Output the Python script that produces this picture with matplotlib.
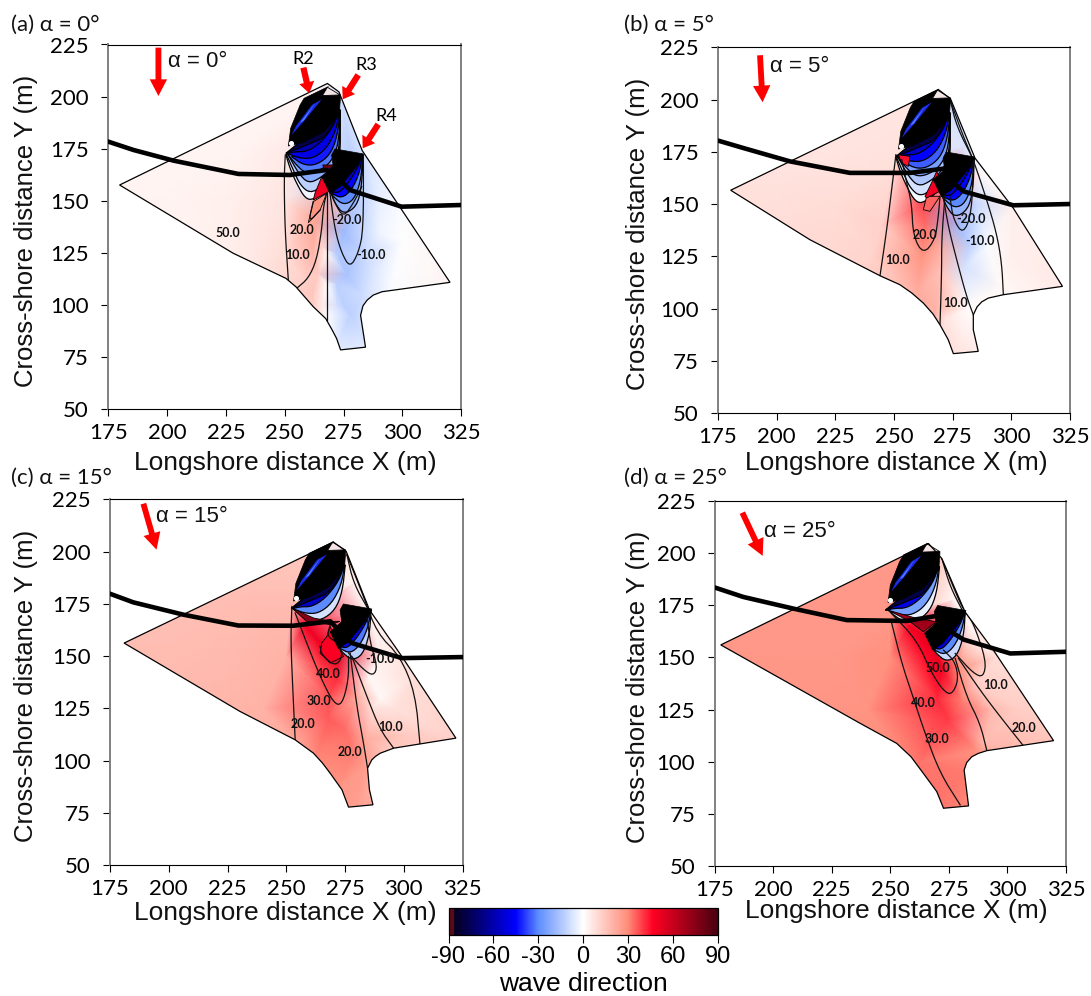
import matplotlib
matplotlib.use("Agg")
import matplotlib.pyplot as plt
import numpy as np
from matplotlib.colors import LinearSegmentedColormap, Normalize
from matplotlib.cm import ScalarMappable
from matplotlib.patches import Polygon
from matplotlib.tri import Triangulation

W, H = 1091, 996
TEXT_FONT = ["Liberation Sans", "DejaVu Sans"]
TICK_FONT = ["Lato", "DejaVu Sans"]

# values, everything in metres / degrees
X_TICKS = [175, 200, 225, 250, 275, 300, 325]
Y_TICKS = [50, 75, 100, 125, 150, 175, 200, 225]
CBAR_TICKS = [-90, -60, -30, 0, 30, 60, 90]

OUTLINE_A = [(179.8, 157.6), (268.1, 206.3), (273, 202.3), (282.9, 174.1), (299.1, 146.7), (320.2, 110.9),
             (291.3, 106.4), (287.6, 104.8), (285, 102.4), (283.2, 99.6), (282.2, 95.1), (284.3, 79.8), (273.7, 78.5),
             (272, 84), (270.2, 87.9), (267.4, 93.5), (262.1, 99.2), (254.7, 108.8), (250.5, 112.8), (228, 124.9)]
OUTLINE_B = [(180.4, 156.6), (268.9, 204.8), (274.1, 200.3), (284.5, 172), (300.8, 148.1), (321.8, 110.6),
             (296.6, 106.6), (290.2, 105), (287.4, 103.2), (285.4, 100.8), (283.8, 97), (283.8, 89.8), (285.9, 79.5),
             (275.3, 78.4), (273.1, 85.1), (269.6, 92.2), (266.6, 97.4), (262.5, 102.6), (257.6, 107.4), (252.5, 111.4), (244, 115.7), (214.2, 132.9)]
OUTLINE_C = [(181, 156.2), (270.1, 204.5), (275.5, 200.1), (285.4, 172.1), (299.2, 149.8), (322.2, 110.7),
             (295.7, 105.9), (290, 103.5), (288, 102), (286.4, 100.3), (284.6, 96.3), (285.4, 86), (286.9, 78.8),
             (276.5, 77.7), (273.7, 86), (268.7, 93.9), (265.4, 98.8), (261.6, 103.5), (253.8, 109.9), (230.3, 123.5)]
OUTLINE_D = [(177.6, 156), (266.3, 204.6), (272, 197.4), (281.9, 171.8), (294, 153.5), (319.7, 110.1),
             (291.2, 105.3), (287.6, 104), (284.8, 102.4), (282.6, 99.6), (281.5, 96), (283.4, 78.8), (272.7, 77.7), (269.8, 85.7),
             (264.1, 94.4), (258.8, 102.4), (252.7, 108.8), (237.1, 118.4)]

# wave direction samples (x, y, degrees)
FIELD_A = [(170, 157, 3), (270, 215, 3), (330, 108, 3), (287, 70, -5), (265, 70, 0), (225, 112, 4), (296, 100, -1),
           (178, 157, 3), (200, 155, 3), (225, 150, 4), (240, 130, 6), (250, 125, 9), (250, 150, 7), (250, 175, 5),
           (230, 175, 3), (258, 195, 3), (258, 112, 12), (262, 125, 20), (263, 140, 24), (262, 105, 15), (266, 100, 5),
           (264, 115, 14), (266, 128, 11), (268, 110, 0), (272, 100, -8), (272, 110, -12), (272, 125, -14),
           (268, 125, 2), (268, 95, 0), (272, 80, -5), (285, 80, -5), (278, 95, -12), (276, 115, -16), (275, 135, -18),
           (275, 100, -12), (275, 88, -9), (278, 82, -7), (287, 115, -7), (282, 150, -12), (290, 150, -4),
           (283, 125, -11), (283, 105, -9), (290, 135, -3), (300, 130, 0), (295, 108, -1), (320, 110, 3), (300, 147, -1),
           (286, 165, -7), (278, 170, -13), (275, 195, -9)]
FIELD_B = [(170, 157, 8), (270, 215, 8), (330, 108, 5), (287, 70, 5), (265, 70, 15), (225, 112, 11), (296, 100, 2),
           (178, 157, 8), (200, 157, 8), (225, 150, 9), (240, 125, 11), (245, 140, 12), (250, 170, 8), (258, 195, 7),
           (230, 178, 7), (252, 113, 17), (260, 108, 22), (262, 125, 28), (263, 140, 34), (262, 150, 38), (268, 100, 20),
           (268, 130, 24), (270, 118, 16), (272, 95, 7), (278, 82, 6), (285, 80, 5), (281, 100, 1), (280, 120, -8),
           (282, 130, -12), (278, 140, -18), (285, 150, -10), (290, 130, -1), (295, 110, 2), (300, 125, 4), (320, 110, 5),
           (300, 148, 4), (288, 165, 1), (280, 178, -7), (274, 198, -9)]
FIELD_C = [(170, 157, 17), (270, 215, 15), (330, 108, 12), (287, 70, 24), (265, 70, 28), (225, 112, 20), (296, 100, 15),
           (178, 157, 17), (200, 155, 17), (225, 150, 18), (240, 125, 20), (250, 150, 20), (252, 172, 18), (230, 178, 17),
           (258, 195, 15), (255, 108, 23), (262, 100, 30), (268, 120, 36), (268, 130, 37), (265, 145, 40), (272, 140, 42),
           (258, 165, 50), (263, 158, 50), (272, 150, 54), (275, 115, 34), (278, 105, 32), (272, 85, 27), (280, 78, 25), (283, 97, 26),
           (284, 110, 22), (287, 125, 8), (285, 140, 2), (290, 130, 2), (296, 125, 8), (300, 112, 14), (322, 110, 12),
           (305, 140, 9), (290, 150, 4), (285, 172, 3), (279, 185, 2), (274, 200, 8), (292, 105, 15), (280, 130, 22)]
FIELD_D = [(170, 156, 27), (266, 215, 25), (330, 108, 15), (287, 70, 31), (265, 70, 34), (225, 112, 28), (296, 100, 22),
           (178, 156, 27), (200, 155, 27), (225, 150, 27), (240, 125, 28), (250, 150, 29), (250, 170, 27), (225, 178, 27),
           (258, 195, 27), (252, 108, 30), (262, 100, 33), (268, 120, 38), (270, 130, 42), (272, 145, 50), (265, 150, 46),
           (258, 165, 48), (268, 158, 54), (275, 120, 40), (272, 85, 33), (280, 78, 31), (283, 95, 32), (287, 105, 28),
           (290, 110, 18), (293, 125, 18), (287, 138, 12), (295, 105, 20), (320, 110, 15), (305, 125, 13), (295, 150, 9),
           (290, 155, 5), (284, 165, 2), (277, 178, 2), (272, 197, 12), (280, 130, 32), (279, 145, 30)]

# shoreline
SHORE_A = [(175, 178.4), (185.7, 174.4), (202.7, 169.3), (230.3, 162.9), (252.2, 162.4), (267.8, 164.8), (273.5, 160),
           (277.7, 155.2), (299.6, 147.2), (325, 148)]
SHORE_B = [(175.2, 180.3), (185.8, 176.8), (205.7, 170.4), (231.2, 164.9), (256.8, 164.9), (273.8, 167.3), (275.3, 160.1),
           (279.5, 156.1), (300.8, 149.4), (325, 150)]
SHORE_C = [(175, 179.8), (184.9, 175.7), (206.2, 169.8), (229.6, 164.6), (253, 164.5), (268.7, 166.6), (275, 159.4),
           (277.9, 156.2), (299.2, 149), (325, 149.5)]
SHORE_D = [(175.1, 183.5), (187.2, 179), (208.6, 173.4), (231.4, 167.9), (257, 167.5), (271.3, 170.2), (277, 161.5),
           (281.2, 158.6), (301.2, 151.9), (325, 152.7)]

# reef blocks, drawn for panel a and moved sideways in the others
UPPER_BLOCK = [(258.2, 199.2), (268.5, 204.8), (266, 200.5), (273.7, 200.8), (273.2, 192), (266.5, 183), (257.9, 178),
               (251.5, 176.3), (252.5, 184.8), (256.5, 196)]
UPPER_NOTCH = [(268.1, 204.5), (273.5, 200.8), (266, 200.5)]
UPPER_STRIPE = [(265.7, 198.7), (261.5, 196), (254.8, 186), (252.9, 181.6), (258.6, 188.8)]
UPPER_STRIPE_2 = [(263, 197), (256.5, 187.5), (258, 188.5)]
LOWER_BLOCK = [(269.9, 172), (271.3, 174.9), (283.4, 172.5), (280.5, 166.4), (273.5, 156.8), (269.2, 153.6),
               (265.7, 161.6), (270.6, 166.4)]
UPPER_FAN = [
    [(273.2, 193.6), (267.8, 180.8), (259.3, 176.8), (250.5, 172.8)],
    [(273.2, 193.9), (270.6, 185.6), (265, 177.6), (259.3, 173.6), (254.3, 173.6), (250.5, 172.5)],
    [(273.3, 193.6), (271.8, 184), (267.8, 175.2), (262.1, 170.4), (256.5, 170.4), (251.5, 172.5)],
    [(273.5, 193.6), (272.3, 180.8), (269.2, 172), (263.5, 167.2), (257.9, 167.2), (252.9, 171.2)],
    [(273.5, 193.6), (272.9, 177.6), (269.9, 168.8), (264.2, 164), (258.6, 163.2), (254.3, 168), (251.5, 172)],
    [(273.5, 193.6), (273.2, 174.4), (270.6, 166.4), (265, 160.8), (260, 158.4), (255.8, 163.2), (251.5, 172)],
    [(273.5, 193.6), (273.5, 171.2), (270.6, 163.2), (265.7, 156.8), (260.7, 153.6), (256.5, 157.6), (253.6, 164.8), (250.8, 172)],
    [(273.5, 193.6), (273.5, 168), (269.2, 156.8), (262.1, 150.4), (258.6, 151.2), (255, 158.4), (252.2, 165.6), (250.5, 172)],
]
LOWER_FAN = [
    [(283.1, 172), (280.5, 164.8), (276.3, 157.6), (272.7, 153.6), (269.2, 154.9)],
    [(283.1, 172), (281.7, 163.2), (278.4, 155.2), (274.2, 151.2), (269.9, 153.6)],
    [(283.1, 172), (282.4, 160), (279.4, 150.4), (274.9, 148), (270.6, 152), (268.9, 154.9)],
    [(283.2, 172), (282.7, 156.8), (280.5, 147.2), (274.9, 143.5), (271.3, 148.8), (269.2, 154.9)],
]
UPPER_LEVELS_A = [-78, -60, -50, -42, -32, -22, -12, -3]
UPPER_LEVELS_B = [-78, -55, -45, -35, -25, -15, -8, -2]
UPPER_LEVELS_C = [-78, -55, -30, -8]
UPPER_LEVELS_D = [-78, -50, -25, -4]
LOWER_LEVELS_A = [-55, -45, -30, -20]
LOWER_LEVELS_B = [-55, -45, -30, -20]
LOWER_LEVELS_C = [-52, -32, -12]
LOWER_LEVELS_D = [-52, -30, -10]

# strong positive patches next to the reefs (level, corners)
PATCHES_A = [(28, [(262.1, 149.6), (260, 139.5), (265, 145.6), (267.8, 153.6)]),
             (50, [(265.7, 161.6), (269.5, 154.9), (262.1, 150.4), (262.8, 153.6)]),
             (80, [(266.1, 167.2), (271.3, 167.2), (269.2, 165.6), (266.7, 165.6)])]
PATCHES_B = [(35, [(262.5, 147.3), (265.3, 146.5), (269.6, 153.7), (263.9, 153.7)]),
             (50, [(268.2, 165.7), (271, 158.5), (269.6, 156.1), (263.9, 152.9), (263.2, 153.7), (266, 160.1)]),
             (45, [(251.8, 173.6), (256.8, 172.8), (256.1, 168), (253.3, 169.6)])]
PATCHES_C = [(48, [(268.7, 164.2), (271.5, 156.2), (274.4, 149.8), (268.7, 146.6), (264.4, 151.4), (265.1, 156.2), (267.3, 159.4)]),
             (75, [(252.4, 172.9), (261.6, 168.2), (268.7, 166.6), (272.9, 166.6), (268.7, 165), (264.4, 165.8), (258.7, 166.6)])]
PATCHES_D = [(70, [(249.2, 172.6), (261.3, 168.7), (269.8, 167.1), (264.1, 162.3), (258.4, 167.1)])]

# contour lines
CONTOURS_A = [
    [(250.2, 172), (249.7, 160), (250.1, 136), (251.5, 112)],
    [(255, 108), (260, 112.8), (263.5, 121.6), (265.7, 136), (266.4, 147.2), (267.8, 153.6)],
    [(267.8, 153.6), (267.8, 92.8)],
    [(269.2, 153.6), (271.3, 136), (274.2, 124.8), (277.7, 118), (281.2, 124.8), (283.4, 136), (283.4, 172)],
    [(269.9, 153.6), (271.3, 148.8), (274.9, 142), (279.1, 148.8), (282.7, 156.8)],
    [(262.1, 149.6), (260, 139.5), (265, 145.6)],
]
CONTOURS_B = [
    [(250.8, 173.6), (249, 156.9), (246.9, 137.7), (244, 115.4)],
    [(253.3, 171.2), (255.4, 160.1), (257.5, 150.5), (258.2, 134.5), (262.5, 126), (267.5, 132.9), (268.9, 144.1), (269.6, 153.7)],
    [(271.7, 153.7), (270.3, 132.9), (270.3, 117), (269.6, 92.2)],
    [(271, 153.7), (273.1, 139.3), (276.7, 123.4), (280.9, 105.8), (283.8, 97)],
    [(273.8, 153.7), (275.3, 142.5), (279.5, 135.5), (283.1, 145.7), (283.8, 169.7)],
    [(274.1, 199.2), (279.5, 182.4), (283.8, 171.2), (289.5, 152.1), (293.7, 136.1), (295.9, 121.8), (296.6, 106.6)],
    [(274.1, 199.2), (276.7, 187.2), (283.8, 171.2)],
]
CONTOURS_C = [
    [(252.4, 173.7), (251.9, 157.8), (252.8, 133.8), (253.8, 109.9)],
    [(253.8, 170.6), (258.7, 156.2), (264.4, 140.2), (270.1, 127.5), (273.7, 126.5), (276.5, 138.6), (276.5, 149.8)],
    [(264.4, 154.6), (265.1, 150.6), (270.8, 145), (274.1, 149.8), (272.2, 156.2), (267.3, 159.4), (268.7, 165)],
    [(277.2, 151.4), (280, 125.9), (282.9, 108.3), (284.6, 96.3)],
    [(277.9, 149.8), (284.3, 130.6), (290, 114.7), (295.7, 105.9)],
    [(276.5, 151.4), (282.9, 143.4), (287.1, 140.5), (288.8, 145), (285.7, 156.2), (284.3, 170.5)],
    [(275.8, 198.5), (282.9, 178.5), (288.6, 161), (298.5, 149.8), (304.9, 132.2), (307, 106.7)],
    [(275.8, 198.5), (278.6, 184.9), (285, 172.1)],
]
CONTOURS_D = [
    [(250.6, 166.3), (254.9, 147.1), (259.9, 130.3), (264.8, 113.6), (271.3, 94.4), (279.8, 79.3)],
    [(249.9, 171.8), (261.3, 158.3), (267.7, 142.3), (272.7, 134), (276.2, 132), (279.1, 139.1), (277.7, 147.9), (272.7, 153.5)],
    [(277.7, 149.5), (282.6, 131.1), (288.3, 118.4), (291.2, 105.3)],
    [(279.1, 149.5), (288.3, 134.3), (296.9, 121.6), (306.9, 107.5)],
    [(277.7, 151.9), (285.5, 142.3), (289.8, 140.5), (290.9, 148.7), (285.5, 166.3), (282.6, 171)],
    [(272, 197.4), (279.8, 175.8), (282.6, 171)],
    [(272, 197.4), (275.5, 184), (281, 172)],
]

LABELS_A = [("50.0", 226, 134.7), ("20.0", 257.2, 136), ("10.0", 255.3, 124), ("-20.0", 276.3, 140.8), ("-10.0", 286.5, 124)]
LABELS_B = [("10.0", 251.5, 123.4), ("20.0", 263.2, 135.3), ("10.0", 276.4, 102.6), ("-20.0", 282.6, 142.8), ("-10.0", 286.6, 132.5)]
LABELS_C = [("40.0", 268, 141.5), ("30.0", 264.1, 128.3), ("20.0", 257.3, 117.4), ("20.0", 277.2, 104.3), ("10.0", 294.5, 115.8),
            ("-10.0", 289.7, 148.5)]
LABELS_D = [("50.0", 270.3, 145), ("40.0", 264.1, 128), ("30.0", 270.1, 110.9), ("10.0", 294.8, 136.7), ("20.0", 306.9, 116.3)]

# wave arrow start, end and the text beside it
ARROW_A = [(196.3, 223.5), (196.3, 200.3)]
ARROW_B = [(192.9, 221.2), (194, 198.7)]
ARROW_C = [(189.2, 222.9), (194.8, 200.9)]
ARROW_D = [(186.8, 219.4), (195.5, 198.7)]
ANGLE_TEXT = ["α = 0°", "α = 5°", "α = 15°", "α = 25°"]
PANEL_TEXT = ["(a) α = 0°", "(b) α = 5°", "(c) α = 15°", "(d) α = 25°"]
ANGLE_POS = [(212.8, 216.8), (209.7, 215.9), (209.8, 216.8), (211.2, 210.2)]

REEF_NAMES = ["R2", "R3", "R4"]
REEF_POS = [(257.9, 217.9), (284.8, 215.2), (293, 190.7)]
REEF_ARROWS = [[(257.9, 213.9), (260.4, 201.6)], [(281.2, 210.4), (274.6, 198.7)], [(289.7, 186.7), (283.1, 175.2)]]

# frame of each panel in pixels: left, right, top, bottom
FRAMES = [(108.3, 461.3, 44.5, 409.3), (718, 1070, 47.3, 413), (110, 462.5, 499.3, 865), (714.7, 1066, 501, 866)]
XLABEL_PX = [(285, 460), (896, 460), (285, 910), (896, 908)]
YLABEL_PX = [24, 636, 24, 636]
UPPER_SHIFT = [0, 0.4, 1.6, -2.5]
LOWER_SHIFT = [0, 1, 3, -1.1]

cmap = LinearSegmentedColormap.from_list("wave", [
    (0.0, "#5a0a1a"), (0.018, "#5a0a1a"), (0.022, "#05001e"), (0.25, "#0000ff"), (0.333, "#5c8cff"), (0.5, "#ffffff"),
    (0.667, "#ff8c7a"), (0.761, "#ff0022"), (1.0, "#4a0010")], N=512)
norm = Normalize(-90, 90)


def add_axes_px(fig, frame):
    l, r, t, b = frame
    return fig.add_axes([l / W, 1 - b / H, (r - l) / W, (b - t) / H])


def round_off(line, passes=2):
    # corner cutting so the typed polylines draw as curves, ends stay put
    c = np.array(line, dtype=float)
    for _ in range(passes):
        q = 0.75 * c[:-1] + 0.25 * c[1:]
        r = 0.25 * c[:-1] + 0.75 * c[1:]
        mid = np.empty((len(q) * 2, 2))
        mid[0::2] = q
        mid[1::2] = r
        c = np.vstack([c[0], mid, c[-1]])
    return c


def draw_panel(ax, outline, field, shore, patches, contours, labels, arrow, i, upper_levels, lower_levels):
    pts = np.array(field, dtype=float)
    tri = Triangulation(pts[:, 0], pts[:, 1])
    shape = Polygon(outline, closed=True, fc="none", ec="black", lw=0.9, zorder=9)
    ax.add_patch(shape)
    mesh = ax.tripcolor(tri, pts[:, 2], shading="gouraud", cmap=cmap, norm=norm, zorder=1)
    mesh.set_clip_path(shape)

    du = UPPER_SHIFT[i]
    dl = LOWER_SHIFT[i]

    # fan under the upper reef, widest band first
    for level, curve in reversed(list(zip(upper_levels, UPPER_FAN))):
        c = round_off(curve) + [du, 0]
        ax.add_patch(Polygon(c, closed=True, fc=cmap(norm(level)), ec="black", lw=0.9, zorder=3))

    for level, corners in patches:
        ax.add_patch(Polygon(corners, closed=True, fc=cmap(norm(level)), ec="black", lw=0.6, zorder=4))

    for level, curve in reversed(list(zip(lower_levels, LOWER_FAN))):
        c = round_off(curve) + [dl, 0]
        ax.add_patch(Polygon(c, closed=True, fc=cmap(norm(level)), ec="black", lw=0.9, zorder=5))

    for line in contours:
        c = round_off(line)
        l, = ax.plot(c[:, 0], c[:, 1], color="#111111", lw=0.9, zorder=6)
        l.set_clip_path(shape)

    ax.add_patch(Polygon(np.array(UPPER_BLOCK) + [du, 0], closed=True, fc="black", ec="black", lw=0.5, zorder=7))
    ax.add_patch(Polygon(np.array(UPPER_NOTCH) + [du, 0], closed=True, fc="#f4e4e6", ec="black", lw=0.6, zorder=7))
    ax.add_patch(Polygon(np.array(UPPER_STRIPE) + [du, 0], closed=True, fc="#1a2ce8", ec="none", zorder=7))
    ax.add_patch(Polygon(np.array(UPPER_STRIPE_2) + [du, 0], closed=True, fc="#5c8cff", ec="none", zorder=7))
    ax.add_patch(Polygon(np.array(LOWER_BLOCK) + [dl, 0], closed=True, fc="black", ec="black", lw=0.5, zorder=7))
    ax.scatter([252.5 + du], [177.6], s=7, color="white", zorder=8)

    s = np.array(shore)
    ax.plot(s[:, 0], s[:, 1], color="black", lw=3.3, solid_joinstyle="miter", zorder=10)

    for txt, x, y in labels:
        ax.text(x, y, txt, fontsize=9, fontweight="bold", family=TICK_FONT, color="#111111",
                ha="center", va="center", zorder=11)

    ax.annotate("", xy=arrow[1], xytext=arrow[0], zorder=12, annotation_clip=False,
                arrowprops=dict(width=4.2, headwidth=12.5, headlength=12, color="red", shrink=0, lw=0))
    ax.text(ANGLE_POS[i][0], ANGLE_POS[i][1], ANGLE_TEXT[i], fontsize=16, family=TEXT_FONT,
            ha="center", va="center", zorder=12, color="#111111")

    ax.set_xlim(175, 325)
    ax.set_ylim(50, 225)
    ax.set_xticks(X_TICKS)
    ax.set_yticks(Y_TICKS)
    ax.tick_params(axis="x", length=5, width=0.8, pad=5, labelsize=16)
    ax.tick_params(axis="y", length=5, width=0.8, pad=9, labelsize=16)
    for lab in ax.get_xticklabels() + ax.get_yticklabels():
        lab.set_family(TICK_FONT)
    ax.spines["left"].set_color("#808080")
    ax.spines["right"].set_color("#808080")
    ax.spines["left"].set_linewidth(1.4)
    ax.spines["right"].set_linewidth(1.4)
    ax.spines["top"].set_linewidth(0.8)
    ax.spines["bottom"].set_linewidth(0.8)
    ax.set_xlabel("Longshore distance X (m)", fontsize=19, family=TEXT_FONT, color="#111111")
    ax.set_ylabel("Cross-shore distance Y (m)", fontsize=18.5, family=TEXT_FONT, color="#111111")
    l, r, t, b = FRAMES[i]
    ax.yaxis.set_label_coords((YLABEL_PX[i] + 13.7 - l) / (r - l), 0.49)
    ax.xaxis.set_label_coords(XLABEL_PX[i][0] / W, 1 - (XLABEL_PX[i][1] - 9) / H, transform=fig.transFigure)
    ax.set_facecolor("white")


fig = plt.figure(figsize=(W / 100, H / 100), dpi=100)

panels = [
    (OUTLINE_A, FIELD_A, SHORE_A, PATCHES_A, CONTOURS_A, LABELS_A, ARROW_A, UPPER_LEVELS_A, LOWER_LEVELS_A),
    (OUTLINE_B, FIELD_B, SHORE_B, PATCHES_B, CONTOURS_B, LABELS_B, ARROW_B, UPPER_LEVELS_B, LOWER_LEVELS_B),
    (OUTLINE_C, FIELD_C, SHORE_C, PATCHES_C, CONTOURS_C, LABELS_C, ARROW_C, UPPER_LEVELS_C, LOWER_LEVELS_C),
    (OUTLINE_D, FIELD_D, SHORE_D, PATCHES_D, CONTOURS_D, LABELS_D, ARROW_D, UPPER_LEVELS_D, LOWER_LEVELS_D),
]
axes = []
for i, p in enumerate(panels):
    ax = add_axes_px(fig, FRAMES[i])
    draw_panel(ax, p[0], p[1], p[2], p[3], p[4], p[5], p[6], i, p[7], p[8])
    axes.append(ax)

# reef markers only in the first panel
for name, pos, arr in zip(REEF_NAMES, REEF_POS, REEF_ARROWS):
    axes[0].text(pos[0], pos[1], name, fontsize=13, family=TICK_FONT, ha="center", va="center", zorder=12)
    axes[0].annotate("", xy=arr[1], xytext=arr[0], zorder=12,
                     arrowprops=dict(width=4.5, headwidth=11, headlength=8, color="red", shrink=0, lw=0))

panel_xy = [(11, 25), (624, 25), (11, 478), (624, 478)]
for txt, (px, py) in zip(PANEL_TEXT, panel_xy):
    fig.text(px / W, 1 - py / H, txt, fontsize=16, family=TICK_FONT, ha="left", va="center", color="#111111")

cax = fig.add_axes([448.5 / W, 1 - 935 / H, 269 / W, 27 / H])
cb = fig.colorbar(ScalarMappable(norm=norm, cmap=cmap), cax=cax, orientation="horizontal", ticks=CBAR_TICKS)
cb.ax.tick_params(length=6, width=0.8, pad=2, labelsize=17)
cb.ax.set_xticklabels([str(v) for v in CBAR_TICKS], family=TEXT_FONT)
cb.outline.set_linewidth(0.9)
cb.set_label("wave direction", fontsize=19, family=TEXT_FONT, labelpad=3)

fig.savefig("out.png", dpi=100)
